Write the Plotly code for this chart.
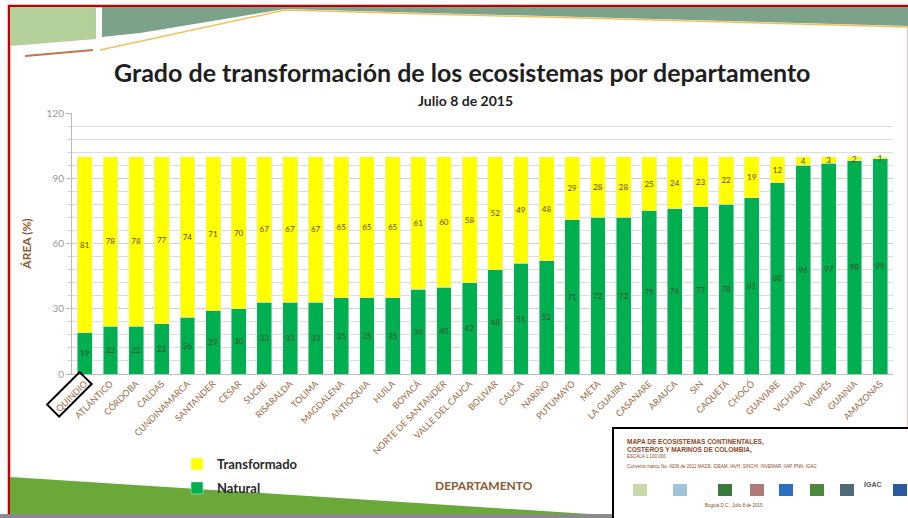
import plotly.graph_objects as go

departamentos = ["QUINDIO", "ATLÁNTICO", "CÓRDOBA", "CALDAS", "CUNDINAMARCA", "SANTANDER",
                 "CESAR", "SUCRE", "RISARALDA", "TOLIMA", "MAGDALENA", "ANTIOQUIA", "HUILA",
                 "BOYACÁ", "NORTE DE SANTANDER", "VALLE DEL CAUCA", "BOLIVAR", "CAUCA", "NARIÑO",
                 "PUTUMAYO", "META", "LA GUAJIRA", "CASANARE", "ARAUCA", "SIN", "CAQUETÁ",
                 "CHOCÓ", "GUAVIARE", "VICHADA", "VAUPÉS", "GUAINIA", "AMAZONAS"]
natural = [19, 22, 22, 23, 26, 29, 30, 33, 33, 33, 35, 35, 35, 39, 40, 42, 48, 51, 52,
           71, 72, 72, 75, 76, 77, 78, 81, 88, 96, 97, 98, 99]
transformado = [81, 78, 78, 77, 74, 71, 70, 67, 67, 67, 65, 65, 65, 61, 60, 58, 52, 49, 48,
                29, 28, 28, 25, 24, 23, 22, 19, 12, 4, 3, 2, 1]
y_ticks = [0, 30, 60, 90, 120]

W, H = 908, 518
L, R, T, B = 72, 15, 113, 144
PW, PH = W - L - R, H - T - B

def px(x):
    return (x - L) / PW

def py(y):
    return (H - B - y) / PH

FONT = "Lato, 'Open Sans', sans-serif"
BROWN = "#9a6a43"

fig = go.Figure()
fig.add_trace(go.Bar(
    name="Natural", x=departamentos, y=natural, marker_color="#00b050", legend="legend2",
    text=natural, textposition="inside", insidetextanchor="middle", constraintext="none",
    textfont=dict(size=8, color="#3a4a30", family=FONT), textangle=0,
))
fig.add_trace(go.Bar(
    name="Transformado", x=departamentos, y=transformado, marker_color="#ffff00", legend="legend",
    text=transformado, textposition="inside", insidetextanchor="middle", constraintext="none",
    textfont=dict(size=8, color="#5a4a20", family=FONT), textangle=0,
))

shapes = []
# slide border
shapes.append(dict(type="rect", xref="paper", yref="paper", x0=px(9), x1=px(909), y0=py(6), y1=py(520),
                   line=dict(color="#c00000", width=2.5), fillcolor="rgba(0,0,0,0)", layer="below"))

def path(points):
    return "M " + " L ".join(f"{px(a):.4f},{py(b):.4f}" for a, b in points) + " Z"

# top banner decorations
shapes.append(dict(type="path", xref="paper", yref="paper", layer="below",
                   path=path([(102, 7), (908, 7), (908, 26), (285, 9), (140, 33), (102, 37)]),
                   fillcolor="#7da28a", line=dict(width=0)))
shapes.append(dict(type="path", xref="paper", yref="paper", layer="below",
                   path=path([(10, 7), (96, 7), (96, 39), (10, 46)]),
                   fillcolor="#b3d09a", line=dict(width=0)))
shapes.append(dict(type="path", xref="paper", yref="paper", layer="below",
                   path="M %f,%f L %f,%f L %f,%f" % (px(100), py(50), px(285), py(10), px(908), py(27)),
                   line=dict(color="#f0c060", width=1.5)))
shapes.append(dict(type="line", xref="paper", yref="paper", layer="below",
                   x0=px(25), y0=py(56), x1=px(93), y1=py(50), line=dict(color="#c8714a", width=2)))
# bottom-left green wedge
shapes.append(dict(type="path", xref="paper", yref="paper", layer="below",
                   path=path([(10, 477), (620, 516), (10, 516)]),
                   fillcolor="#6aa83a", line=dict(width=0)))
shapes.append(dict(type="rect", xref="paper", yref="paper", layer="below",
                   x0=px(0), x1=px(908), y0=py(514), y1=py(520), fillcolor="#8a8a8a", line=dict(width=0)))
# inset map box
shapes.append(dict(type="rect", xref="paper", yref="paper", layer="above",
                   x0=px(613), x1=px(912), y0=py(428), y1=py(522), fillcolor="white",
                   line=dict(color="black", width=2)))
logo_cols = ["#c8d8a8", "#9fc4d8", "#3a7a3a", "#b07a7a", "#2a70c0", "#4a8a3a", "#506a7a", "#2a5aa0"]
logo_x = [640, 680, 725, 757, 786, 817, 847, 900]
for c, lx in zip(logo_cols, logo_x):
    shapes.append(dict(type="rect", xref="paper", yref="paper", layer="above",
                       x0=px(lx - 7), x1=px(lx + 7), y0=py(484), y1=py(496), fillcolor=c,
                       line=dict(width=0)))

annotations = [
    dict(text="Grado de transformación de los ecosistemas por departamento", x=px(462), y=py(72),
         xref="paper", yref="paper", showarrow=False, xanchor="center", yanchor="middle",
         font=dict(size=25, color="#1e1e1e", family=FONT, weight="bold")),
    dict(text="<b>Julio 8 de 2015</b>", x=px(465), y=py(100),
         xref="paper", yref="paper", showarrow=False, xanchor="center", yanchor="middle",
         font=dict(size=14, color="#1e1e1e", family=FONT)),
    dict(text="<b>DEPARTAMENTO</b>", x=px(484), y=py(485),
         xref="paper", yref="paper", showarrow=False, xanchor="center", yanchor="middle",
         font=dict(size=12, color="#8a5a33", family=FONT)),
    dict(text="QUINDIO", x=px(69), y=py(394), xref="paper", yref="paper", showarrow=False,
         xanchor="center", yanchor="middle",
         textangle=-45, font=dict(size=9, color="rgba(0,0,0,0)", family=FONT),
         bordercolor="black", borderwidth=2, borderpad=2),
    dict(text="<b>MAPA DE ECOSISTEMAS CONTINENTALES,<br>COSTEROS Y MARINOS DE COLOMBIA,</b>",
         x=px(625), y=py(436), xref="paper", yref="paper", showarrow=False, xanchor="left", yanchor="top",
         align="left", font=dict(size=6.5, color="#8a4a2a", family="Liberation Sans")),
    dict(text="ESCALA 1:100.000", x=px(625), y=py(452), xref="paper", yref="paper", showarrow=False,
         xanchor="left", yanchor="top", font=dict(size=4.5, color="#8a4a2a", family="Liberation Sans")),
    dict(text="Convenio marco No. 4206 de 2011 MADS, IDEAM, IAVH, SINCHI, INVEMAR, IIAP, PNN, IGAC",
         x=px(625), y=py(462), xref="paper", yref="paper", showarrow=False, xanchor="left", yanchor="top",
         font=dict(size=4.5, color="#8a4a2a", family="Liberation Sans")),
    dict(text="<b>IGAC</b>", x=px(884), y=py(490), xref="paper", yref="paper", showarrow=False,
         font=dict(size=7, color="#555", family="Liberation Sans")),
    dict(text="Bogotá D.C., Julio 8 de 2015", x=px(765), y=py(510), xref="paper", yref="paper",
         showarrow=False, font=dict(size=4.5, color="#8a4a2a", family="Liberation Sans")),
]

legend_style = dict(xanchor="left", yanchor="middle", itemwidth=30, bgcolor="rgba(0,0,0,0)",
                    font=dict(size=13, color="#2a2a2a", family=FONT, weight="bold"))

fig.update_layout(
    width=W, height=H, barmode="stack", bargap=0.42,
    margin=dict(l=L, r=R, t=T, b=B, autoexpand=False),
    paper_bgcolor="white", plot_bgcolor="white",
    font=dict(family=FONT),
    showlegend=True,
    legend=dict(x=px(177), y=py(464), **legend_style),
    legend2=dict(x=px(177), y=py(488), **legend_style),
    shapes=shapes, annotations=annotations,
)
fig.update_xaxes(
    tickangle=-45, tickfont=dict(size=9, color=BROWN, family=FONT),
    showline=True, linecolor="#bbbbbb", ticks="", automargin=False,
)
fig.update_yaxes(
    range=[0, 120], tickvals=y_ticks, ticks="outside", ticklen=5, tickcolor="#bbbbbb",
    tickfont=dict(size=10, color="#999999", family=FONT),
    showline=True, linecolor="#bbbbbb", showgrid=True, gridcolor="#d0d0d0", gridwidth=1,
    minor=dict(dtick=6, showgrid=True, gridcolor="#dcdcdc", ticks="outside", ticklen=3, tickcolor="#cccccc"),
    title=dict(text="<b>ÁREA (%)</b>", font=dict(size=12, color="#8a5a33", family=FONT), standoff=12),
    automargin=False, zeroline=False,
)

fig.write_html("out.html", config={"displayModeBar": False},
               post_script="document.body.style.margin='0';")
